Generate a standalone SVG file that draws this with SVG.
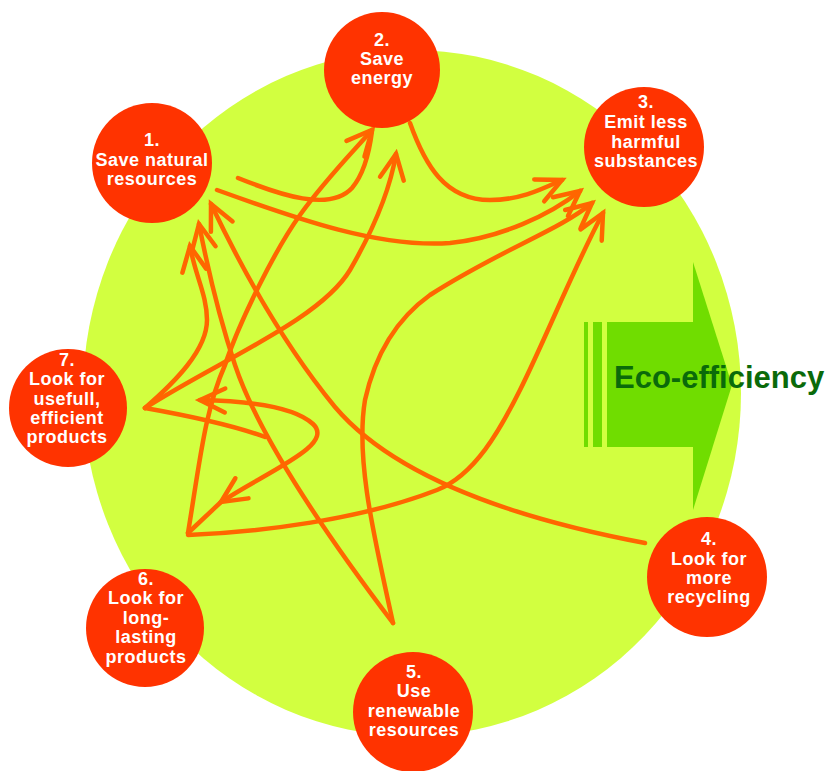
<svg xmlns="http://www.w3.org/2000/svg" width="827" height="771" viewBox="0 0 827 771">
<defs>
<style>
.bg{fill:#D2FF40}
.node circle{fill:#FF3300}
.node text{fill:#FFFFFF;font-family:"Liberation Sans",Arial,sans-serif;font-weight:bold;font-size:18px;letter-spacing:0.5px;text-anchor:middle}
.c{fill:none;stroke:#FF6600;stroke-width:4.5;stroke-linecap:round;stroke-linejoin:round}
.eco{fill:#70DD00}
.ecotext{fill:#0A6A0A;font-family:"Liberation Sans",Arial,sans-serif;font-weight:bold;font-size:31px}
</style>
<marker id="ah" markerUnits="userSpaceOnUse" viewBox="-30 -16 34 32" markerWidth="34" markerHeight="32" refX="0" refY="0" orient="auto-start-reverse" overflow="visible">
<path d="M-25,-12 L0,0 L-25,12" fill="none" stroke="#FF6600" stroke-width="4.5" stroke-linejoin="miter" stroke-linecap="round"/>
</marker>
</defs>
<rect width="827" height="771" fill="#FFFFFF"/>
<ellipse class="bg" cx="412" cy="393" rx="329" ry="343"/>
<g id="eco">
<rect class="eco" x="584" y="322" width="4" height="125"/>
<rect class="eco" x="593" y="322" width="9" height="125"/>
<rect class="eco" x="607" y="322" width="87" height="125"/>
<polygon class="eco" points="693,262 732,385 693,510"/>
<text class="ecotext" x="614" y="388">Eco-efficiency</text>
</g>
<g id="connectors">
<path class="c" marker-end="url(#ah)" d="M645,543 C470,510 380,460 335,407 C280,340 240,265 211,204"/>
<path class="c" marker-end="url(#ah)" d="M393,623 C330,540 260,440 235,365 C220,320 207,265 199,224"/>
<path class="c" marker-end="url(#ah)" d="M145,408 C175,382 207,350 207,320 C207,295 195,275 190,246"/>
<path class="c" marker-end="url(#ah)" d="M188,533 C200,460 205,410 225,365 C240,320 275,250 300,215 C325,180 350,155 372,130"/>
<path class="c" d="M238,178 C280,195 330,212 352,188 C363,175 369,155 372,131"/>
<path class="c" marker-end="url(#ah)" d="M145,408 C220,360 320,320 350,270 C372,232 390,190 396,154"/>
<path class="c" marker-end="url(#ah)" d="M217,190 C300,220 380,248 450,243 C500,238 550,215 580,191"/>
<path class="c" marker-end="url(#ah)" d="M410,123 C425,165 445,200 490,200 C520,200 540,190 562,180"/>
<path class="c" marker-end="url(#ah)" d="M393,623 C375,540 355,460 365,400 C375,355 395,320 430,295 C500,250 560,230 592,203"/>
<path class="c" marker-end="url(#ah)" d="M188,535 C260,532 360,520 437,490 C475,475 500,430 520,390 C545,340 575,265 603,213"/>
<path class="c" marker-start="url(#ah)" marker-end="url(#ah)" d="M221,502 C270,470 335,445 313,424 C295,407 250,401 200,400"/>
<path class="c" d="M188,533 L221,502"/>
<path class="c" d="M145,408 C190,416 235,426 265,437"/>
</g>
<g id="node1" class="node">
<circle cx="152" cy="163" r="60"/>
<text x="152" y="146">1.</text>
<text x="152" y="166">Save natural</text>
<text x="152" y="185">resources</text>
</g>
<g id="node2" class="node">
<circle cx="382" cy="70" r="58"/>
<text x="382" y="46">2.</text>
<text x="382" y="65">Save</text>
<text x="382" y="84">energy</text>
</g>
<g id="node3" class="node">
<circle cx="644" cy="147" r="60"/>
<text x="646" y="108">3.</text>
<text x="646" y="128">Emit less</text>
<text x="646" y="148">harmful</text>
<text x="646" y="167">substances</text>
</g>
<g id="node4" class="node">
<circle cx="707" cy="577" r="60"/>
<text x="709" y="545">4.</text>
<text x="709" y="565">Look for</text>
<text x="709" y="584">more</text>
<text x="709" y="603">recycling</text>
</g>
<g id="node5" class="node">
<circle cx="413" cy="712" r="60"/>
<text x="414" y="678">5.</text>
<text x="414" y="697">Use</text>
<text x="414" y="717">renewable</text>
<text x="414" y="736">resources</text>
</g>
<g id="node6" class="node">
<circle cx="145" cy="628" r="59"/>
<text x="146" y="585">6.</text>
<text x="146" y="604">Look for</text>
<text x="146" y="624">long-</text>
<text x="146" y="643">lasting</text>
<text x="146" y="663">products</text>
</g>
<g id="node7" class="node">
<circle cx="68" cy="408" r="59"/>
<text x="67" y="366">7.</text>
<text x="67" y="385">Look for</text>
<text x="67" y="405">usefull,</text>
<text x="67" y="424">efficient</text>
<text x="67" y="443">products</text>
</g>
</svg>
